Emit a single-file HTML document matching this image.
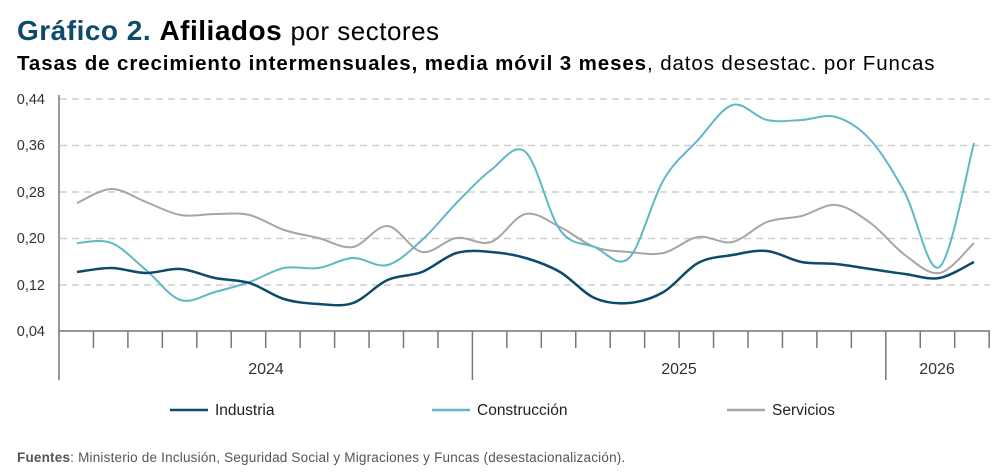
<!DOCTYPE html>
<html><head><meta charset="utf-8"><style>
body{margin:0;width:1003px;height:475px;background:#fff;font-family:"Liberation Sans",Arial,sans-serif;position:relative;overflow:hidden}
.t{position:absolute;white-space:nowrap}
</style></head><body>
<div class="t" style="left:17px;top:15px;font-size:28px;letter-spacing:0.5px"><b style="color:#0d4a6b">Gráfico 2.</b> <b>Afiliados</b> <span style="font-size:26px">por sectores</span></div>
<div class="t" style="left:17px;top:52px;font-size:20.5px;letter-spacing:0.9px"><b>Tasas de crecimiento intermensuales, media móvil 3 meses</b>, datos desestac. por Funcas</div>
<svg width="1003" height="475" style="position:absolute;left:0;top:0" id="s">
<g stroke="#cfcfcf" stroke-width="1.5" stroke-dasharray="7,5">
<line x1="60" x2="990" y1="99" y2="99"/><line x1="60" x2="990" y1="145.5" y2="145.5"/><line x1="60" x2="990" y1="192" y2="192"/><line x1="60" x2="990" y1="238.5" y2="238.5"/><line x1="60" x2="990" y1="285" y2="285"/>
</g>
<g font-size="14.5" fill="#333" text-anchor="end">
<text x="45" y="104">0,44</text><text x="45" y="150">0,36</text><text x="45" y="197">0,28</text><text x="45" y="243">0,20</text><text x="45" y="290">0,12</text><text x="45" y="336">0,04</text>
</g>
<g stroke="#777" stroke-width="1.5" id="ax">
<line x1="59" x2="59" y1="95" y2="380"/><line x1="59" x2="990" y1="331" y2="331"/>
</g>
<g font-size="16" fill="#333" text-anchor="middle">
<text x="266" y="374">2024</text><text x="679" y="374">2025</text><text x="937" y="374">2026</text>
</g>
<line x1="170" x2="208" y1="410" y2="410" stroke="#0d4a6b" stroke-width="2.5"/>
<line x1="432" x2="470" y1="410" y2="410" stroke="#5fb8c4" stroke-width="2.5"/>
<line x1="727" x2="765" y1="410" y2="410" stroke="#a6a6a6" stroke-width="2.5"/>
<g font-size="15.5" fill="#222"><text x="215" y="415">Industria</text><text x="477" y="415">Construcción</text><text x="772" y="415">Servicios</text></g>
</svg>
<div class="t" style="left:17px;top:450px;font-size:13.5px;letter-spacing:0.2px;color:#555"><b>Fuentes</b>: Ministerio de Inclusión, Seguridad Social y Migraciones y Funcas (desestacionalización).</div>
<script>
var s=document.getElementById('s'),ax=document.getElementById('ax'),NS='http://www.w3.org/2000/svg';
for(var i=1;i<=27;i++){var x=59+i*34.45;var l=document.createElementNS(NS,'line');l.setAttribute('x1',x);l.setAttribute('x2',x);l.setAttribute('y1',331);l.setAttribute('y2',(i==12||i==24)?380:348);ax.appendChild(l);}
function path(ys,c,w){var p=ys.map(function(y,i){return[77+i*34.5,y]});var d='M'+p[0];for(var i=0;i<p.length-1;i++){var a=p[i-1]||p[i],b=p[i],e=p[i+1],f=p[i+2]||e;d+='C'+(b[0]+(e[0]-a[0])/6)+','+(b[1]+(e[1]-a[1])/6)+' '+(e[0]-(f[0]-b[0])/6)+','+(e[1]-(f[1]-b[1])/6)+' '+e;}var q=document.createElementNS(NS,'path');q.setAttribute('d',d);q.setAttribute('fill','none');q.setAttribute('stroke',c);q.setAttribute('stroke-width',w);s.appendChild(q);}
path([203,189,202,215,214,215,230,238,247,226,252,238,242,214,227,247,252,253,237,242,222,216,205,223,255,273,243],'#a6a6a6',2);
path([243,243,270,300,292,282,268,268,258,265,240,203,170,152,230,247,258,180,140,105,120,120,117,140,193,267,143],'#5fb8c4',2);
path([272,268,273,269,278,283,299,304,303,280,272,253,252,258,272,298,303,292,263,255,251,262,264,269,274,278,262],'#0d4a6b',2.5);
</script>
</body></html>
